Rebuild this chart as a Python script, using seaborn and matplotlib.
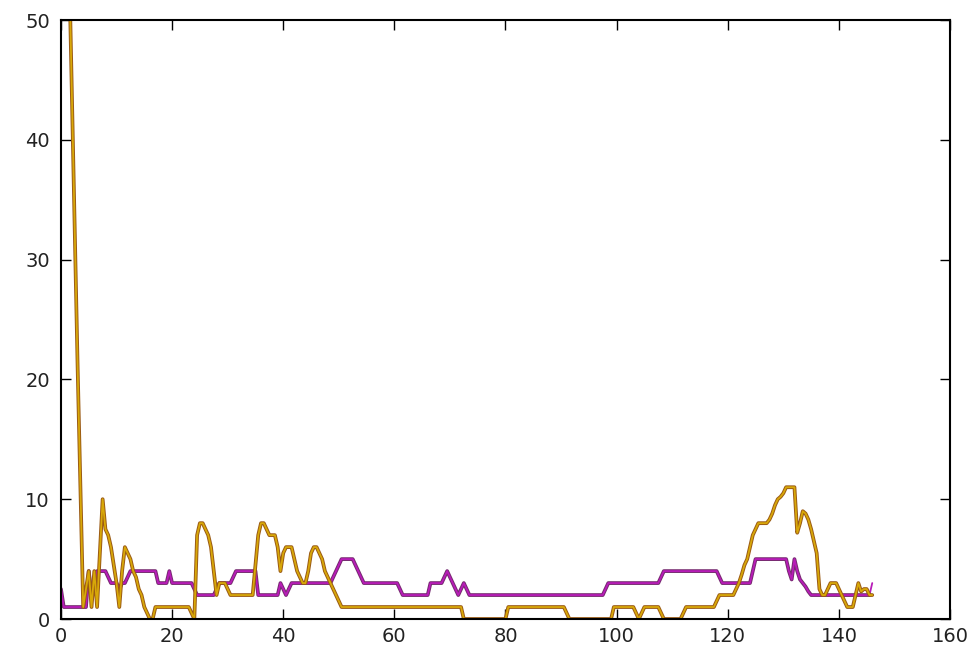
import numpy as np
import pandas as pd
import matplotlib
matplotlib.use("Agg")
import matplotlib.pyplot as plt
import seaborn as sns

# sampling step of the series along x
x_step = 0.5

# yellow / brown series (values every 0.5 on x, from x=0 to x=146)
gold = [
    60, 58, 57, 54, 43, 32, 21, 11, 1, 2.5,
    4, 1, 4, 1, 5.5, 10, 7.5, 7, 6, 4.5,
    3, 1, 4, 6, 5.5, 5, 4, 3.5, 2.5, 2,
    1, 0.5, 0, 0, 1, 1, 1, 1, 1, 1,
    1, 1, 1, 1, 1, 1, 1, 0.5, 0, 7,
    8, 8, 7.5, 7, 6, 4, 2, 3, 3, 3,
    2.5, 2, 2, 2, 2, 2, 2, 2, 2, 2,
    4.5, 7, 8, 8, 7.5, 7, 7, 7, 6, 4,
    5.5, 6, 6, 6, 5, 4, 3.5, 3, 3, 4,
    5.5, 6, 6, 5.5, 5, 4, 3.5, 3, 2.5, 2,
    1.5, 1, 1, 1, 1, 1, 1, 1, 1, 1,
    1, 1, 1, 1, 1, 1, 1, 1, 1, 1,
    1, 1, 1, 1, 1, 1, 1, 1, 1, 1,
    1, 1, 1, 1, 1, 1, 1, 1, 1, 1,
    1, 1, 1, 1, 1, 0, 0, 0, 0, 0,
    0, 0, 0, 0, 0, 0, 0, 0, 0, 0,
    0, 1, 1, 1, 1, 1, 1, 1, 1, 1,
    1, 1, 1, 1, 1, 1, 1, 1, 1, 1,
    1, 1, 0.5, 0, 0, 0, 0, 0, 0, 0,
    0, 0, 0, 0, 0, 0, 0, 0, 0, 1,
    1, 1, 1, 1, 1, 1, 1, 0.5, 0, 0.5,
    1, 1, 1, 1, 1, 1, 0.5, 0, 0, 0,
    0, 0, 0, 0, 0.5, 1, 1, 1, 1, 1,
    1, 1, 1, 1, 1, 1, 1.5, 2, 2, 2,
    2, 2, 2, 2.5, 3, 3.7, 4.5, 5, 6, 7,
    7.5, 8, 8, 8, 8, 8.3, 8.8, 9.5, 10, 10.2,
    10.5, 11, 11, 11, 11, 7.2, 8, 9, 8.8, 8.3,
    7.5, 6.5, 5.5, 2.5, 2, 2, 2.5, 3, 3, 3,
    2.5, 2, 1.5, 1, 1, 1, 2, 3, 2.3, 2.5,
    2.5, 2, 2,
]

# magenta / purple series
magenta = [
    2.5, 1, 1, 1, 1, 1, 1, 1, 1, 1,
    4, 2, 3, 4, 4, 4, 4, 3.5, 3, 3,
    3, 2.5, 3, 3, 3.5, 4, 4, 4, 4, 4,
    4, 4, 4, 4, 4, 3, 3, 3, 3, 4,
    3, 3, 3, 3, 3, 3, 3, 3, 2.5, 2,
    2, 2, 2, 2, 2, 2, 2.5, 3, 3, 3,
    3, 3, 3.5, 4, 4, 4, 4, 4, 4, 4,
    4, 2, 2, 2, 2, 2, 2, 2, 2, 3,
    2.5, 2, 2.5, 3, 3, 3, 3, 3, 3, 3,
    3, 3, 3, 3, 3, 3, 3, 3, 3.5, 4,
    4.5, 5, 5, 5, 5, 5, 4.5, 4, 3.5, 3,
    3, 3, 3, 3, 3, 3, 3, 3, 3, 3,
    3, 3, 2.5, 2, 2, 2, 2, 2, 2, 2,
    2, 2, 2, 3, 3, 3, 3, 3, 3.5, 4,
    3.5, 3, 2.5, 2, 2.5, 3, 2.5, 2, 2, 2,
    2, 2, 2, 2, 2, 2, 2, 2, 2, 2,
    2, 2, 2, 2, 2, 2, 2, 2, 2, 2,
    2, 2, 2, 2, 2, 2, 2, 2, 2, 2,
    2, 2, 2, 2, 2, 2, 2, 2, 2, 2,
    2, 2, 2, 2, 2, 2, 2.5, 3, 3, 3,
    3, 3, 3, 3, 3, 3, 3, 3, 3, 3,
    3, 3, 3, 3, 3, 3, 3.5, 4, 4, 4,
    4, 4, 4, 4, 4, 4, 4, 4, 4, 4,
    4, 4, 4, 4, 4, 4, 4, 3.5, 3, 3,
    3, 3, 3, 3, 3, 3, 3, 3, 3, 4,
    5, 5, 5, 5, 5, 5, 5, 5, 5, 5,
    5, 5, 4, 3.3, 5, 4, 3.3, 3, 2.7, 2.3,
    2, 2, 2, 2, 2, 2, 2, 2, 2, 2,
    2, 2, 2, 2, 2, 2, 2, 2, 2, 2,
    2, 2, 3,
]

x_ticks = [0, 20, 40, 60, 80, 100, 120, 140, 160]
y_ticks = [0, 10, 20, 30, 40, 50]

xs = np.arange(len(gold)) * x_step
df = pd.DataFrame({"x": xs, "magenta": magenta, "gold": gold})

sns.set_style("ticks")
plt.rcParams["font.family"] = ["DejaVu Sans"]

fig = plt.figure(figsize=(9.77, 6.54), dpi=100)
ax = fig.add_axes([0.0624, 0.0535, 0.910, 0.9159])

# purple series: dark underlay + bright magenta on top
sns.lineplot(data=df.iloc[:-1], x="x", y="magenta", ax=ax, color="#762a70",
             lw=2.7, estimator=None, sort=False)
sns.lineplot(data=df, x="x", y="magenta", ax=ax, color="#b81cb8",
             lw=1.3, estimator=None, sort=False)
# gold series: brown underlay + yellow on top
sns.lineplot(data=df, x="x", y="gold", ax=ax, color="#9a5a14",
             lw=2.7, estimator=None, sort=False)
sns.lineplot(data=df, x="x", y="gold", ax=ax, color="#d8a808",
             lw=1.3, estimator=None, sort=False)

ax.set_xlim(0, 160)
ax.set_ylim(0, 50)
ax.set_xticks(x_ticks)
ax.set_yticks(y_ticks)
ax.set_xlabel("")
ax.set_ylabel("")
for s in ax.spines.values():
    s.set_visible(True)
    s.set_color("black")
    s.set_linewidth(1.5)
ax.tick_params(direction="in", length=7, width=1, colors="black",
               top=True, right=True, labelsize=14, labelcolor="#222222")
ax.tick_params(axis="x", pad=6)
ax.tick_params(axis="y", pad=8)

fig.savefig("out.png", dpi=100)
